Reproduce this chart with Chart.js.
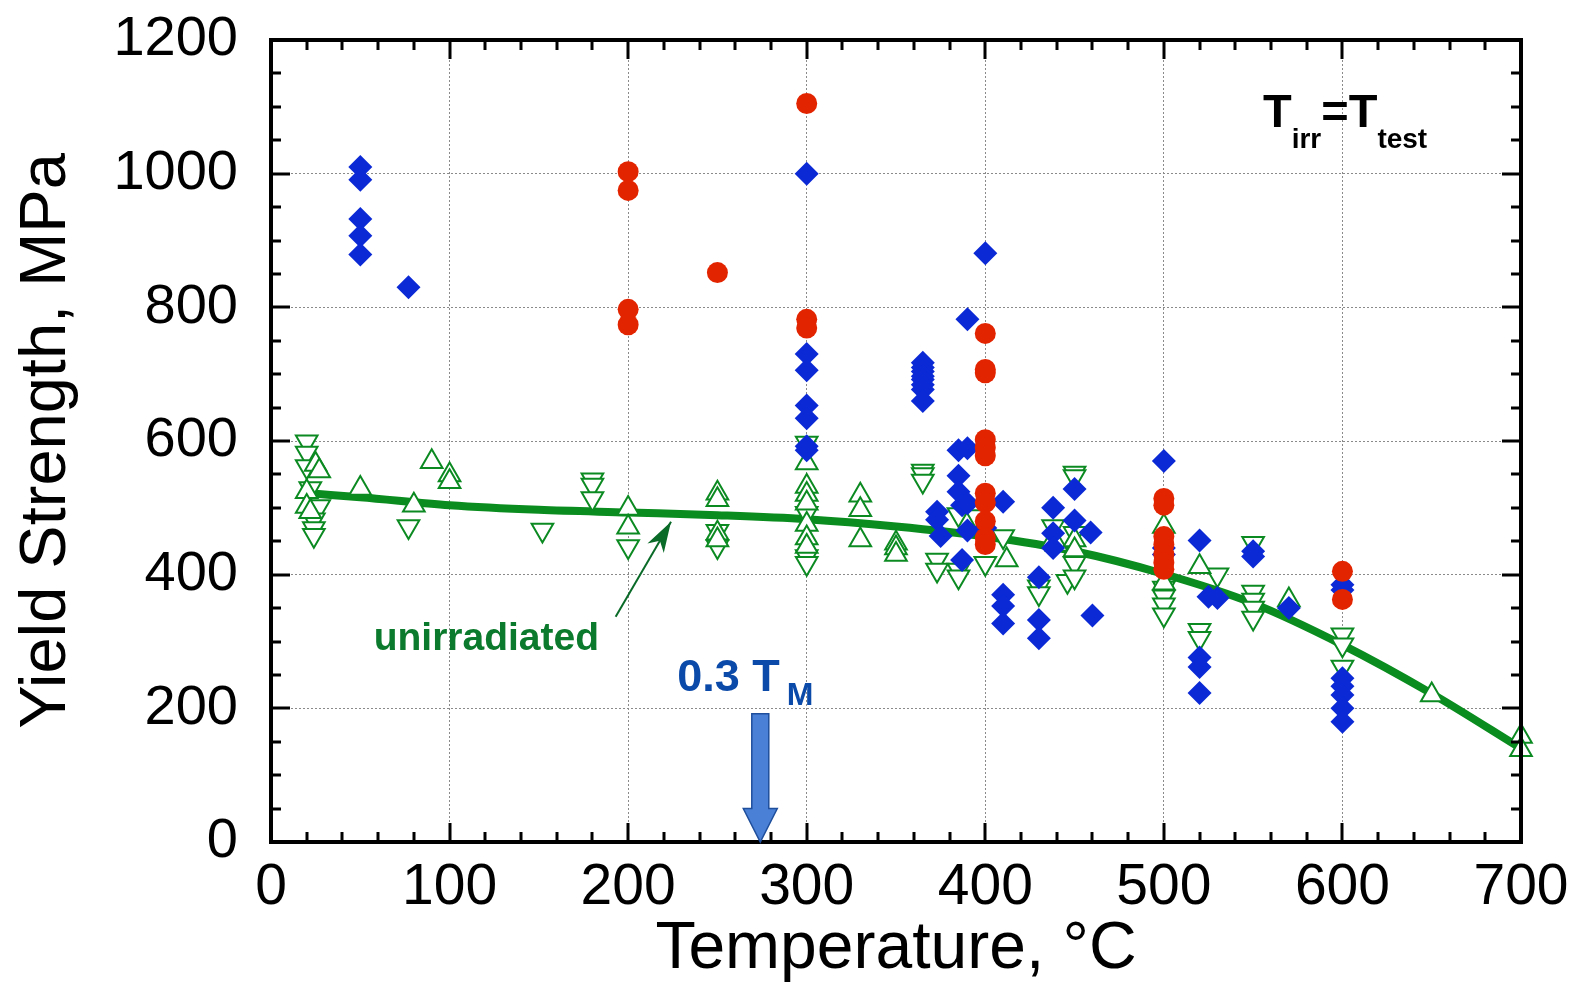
<!DOCTYPE html>
<html>
<head>
<meta charset="utf-8">
<script src="https://cdn.jsdelivr.net/npm/chart.js@4.4.1/dist/chart.umd.min.js"></script>
<style>
  body { margin: 0; background: #fff; }
</style>
</head>
<body>
<canvas id="myChart" width="1581" height="983"></canvas>
<script>
// ---------- data ----------
// irradiated, blue diamonds
const blueT = [50, 50, 50, 50, 50, 77,
  300, 300, 300, 300, 300, 300, 300,
  365, 365, 365, 365, 365, 365, 365, 365,
  385, 390, 385, 385, 387, 390, 373, 373, 375, 390, 387, 390,
  400, 400, 410, 410, 410, 410, 430, 430, 430, 438, 438, 438, 450, 450, 459, 460,
  500, 500, 500, 520, 520, 520, 520, 525, 530, 550, 550, 570,
  600, 600, 600, 600, 600, 600, 600];
const blueY = [1010, 991, 932, 907, 879, 830,
  1000, 730, 706, 653, 634, 592, 586,
  717, 710, 704, 697, 692, 684, 677, 660,
  586, 589, 548, 524, 504, 507, 494, 482, 458, 466, 422, 782,
  881, 470, 509, 370, 353, 327, 396, 332, 305, 500, 462, 440, 528, 481, 463, 339,
  570, 440, 430, 451, 276, 262, 223, 367, 365, 435, 427, 350,
  385, 377, 245, 233, 220, 200, 180];

// irradiated, red circles
const redT = [200, 200, 200, 200, 250, 300, 300, 300,
  400, 400, 400, 400, 400, 400, 400, 400, 400, 400, 400,
  500, 500, 500, 500, 500, 500, 500, 600, 600];
const redY = [1003, 975, 797, 774, 852, 1105, 782, 769,
  761, 707, 702, 602, 590, 578, 522, 508, 480, 455, 445,
  514, 504, 457, 445, 430, 418, 408, 405, 363];

// unirradiated, open up-triangles
const upT = [25, 27, 20, 20, 22, 50, 80, 90, 100, 100, 200, 200,
  250, 250, 250, 250, 300, 300, 300, 300, 300, 300, 300,
  330, 330, 330, 350, 350, 350, 412, 438, 440, 450, 450,
  500, 500, 520, 570, 650, 700, 700];
const upY = [565, 555, 524, 502, 494, 529, 504, 569, 549, 539, 499, 471,
  522, 512, 462, 452, 567, 532, 520, 507, 475, 455, 442,
  519, 497, 452, 447, 440, 430, 422, 452, 445, 452, 437,
  472, 387, 412, 362, 220, 158, 138];

// unirradiated, open down-triangles
const downT = [20, 20, 20, 22, 27, 24, 24, 24, 77, 152, 180, 180, 180, 200,
  250, 250, 300, 300, 300, 300, 365, 365, 365, 373, 373, 385, 385, 385, 395,
  400, 410, 430, 430, 438, 446, 450, 450, 450, 450, 450,
  500, 500, 500, 500, 520, 520, 530, 550, 550, 550, 550, 550, 600, 600, 600];
const downY = [599, 582, 562, 529, 502, 482, 469, 459, 472, 467, 542, 534, 514, 442,
  465, 442, 597, 492, 427, 417, 555, 550, 540, 422, 407, 490, 407, 397, 487,
  417, 457, 382, 372, 472, 390, 552, 547, 462, 417, 397,
  380, 367, 355, 340, 317, 305, 400, 447, 374, 362, 350, 335, 310, 295, 262];

// unirradiated trend line
const lineT = [25, 50, 100, 150, 200, 250, 300, 350, 400, 450, 500, 550, 600, 650, 700];
const lineY = [521, 516, 504, 497, 493, 489, 483, 472, 457, 435, 401, 357, 295, 222, 140];

const xTicks = [0, 100, 200, 300, 400, 500, 600, 700];
const yTicks = [0, 200, 400, 600, 800, 1000, 1200];

const toPts = (xs, ys) => xs.map((x, i) => ({ x: x, y: ys[i] }));

const FONT = "'Liberation Sans', Arial, Helvetica, sans-serif";

// frame, inward ticks and the text / arrow notes
const decor = {
  id: 'decor',
  afterDatasetsDraw(chart) {
    const ctx = chart.ctx;
    const a = chart.chartArea;
    const xs = chart.scales.x, ys = chart.scales.y;
    ctx.save();
    ctx.strokeStyle = '#000';
    ctx.lineWidth = 3;
    ctx.lineCap = 'butt';
    for (let v = 0; v <= 700; v += 20) {
      const px = Math.round(xs.getPixelForValue(v));
      const len = v % 100 === 0 ? 19 : 10;
      ctx.beginPath();
      ctx.moveTo(px, a.bottom); ctx.lineTo(px, a.bottom - len);
      ctx.moveTo(px, a.top); ctx.lineTo(px, a.top + len);
      ctx.stroke();
    }
    for (let v = 0; v <= 1200; v += 50) {
      const py = Math.round(ys.getPixelForValue(v));
      const len = v % 200 === 0 ? 19 : 10;
      ctx.beginPath();
      ctx.moveTo(a.left, py); ctx.lineTo(a.left + len, py);
      ctx.moveTo(a.right, py); ctx.lineTo(a.right - len, py);
      ctx.stroke();
    }
    ctx.lineWidth = 4;
    ctx.strokeRect(a.left, a.top, a.right - a.left, a.bottom - a.top);

    // "unirradiated" + arrow
    ctx.fillStyle = '#0b7a2c';
    ctx.font = 'bold 39px ' + FONT;
    ctx.textBaseline = 'alphabetic';
    ctx.textAlign = 'left';
    ctx.fillText('unirradiated', xs.getPixelForValue(57.5), ys.getPixelForValue(287));
    const ax0 = xs.getPixelForValue(193), ay0 = ys.getPixelForValue(337);
    const ax1 = xs.getPixelForValue(224), ay1 = ys.getPixelForValue(479);
    ctx.strokeStyle = '#0a6a28';
    ctx.lineWidth = 2;
    ctx.beginPath(); ctx.moveTo(ax0, ay0); ctx.lineTo(ax1, ay1); ctx.stroke();
    const ang = Math.atan2(ay1 - ay0, ax1 - ax0);
    ctx.fillStyle = '#0a6a28';
    ctx.beginPath();
    ctx.moveTo(ax1, ay1);
    ctx.lineTo(ax1 - 32 * Math.cos(ang - 0.3), ay1 - 32 * Math.sin(ang - 0.3));
    ctx.lineTo(ax1 - 22 * Math.cos(ang), ay1 - 22 * Math.sin(ang));
    ctx.lineTo(ax1 - 32 * Math.cos(ang + 0.3), ay1 - 32 * Math.sin(ang + 0.3));
    ctx.closePath(); ctx.fill();

    // 0.3 TM with blue arrow
    ctx.fillStyle = '#0b4aa8';
    ctx.font = 'bold 45px ' + FONT;
    const tx = xs.getPixelForValue(227.5), ty = ys.getPixelForValue(226);
    ctx.fillText('0.3 T', tx, ty);
    const w1 = ctx.measureText('0.3 T').width;
    ctx.font = 'bold 32px ' + FONT;
    ctx.fillText('M', tx + w1 + 7, ty + 14);

    const bx = xs.getPixelForValue(274);
    const bTop = ys.getPixelForValue(192), bHead = ys.getPixelForValue(50), bTip = ys.getPixelForValue(0);
    ctx.fillStyle = '#4a80d6';
    ctx.strokeStyle = '#1f4f9c';
    ctx.lineWidth = 1.5;
    ctx.beginPath();
    ctx.moveTo(bx - 8.5, bTop); ctx.lineTo(bx + 8.5, bTop);
    ctx.lineTo(bx + 8.5, bHead); ctx.lineTo(bx + 17, bHead);
    ctx.lineTo(bx, bTip); ctx.lineTo(bx - 17, bHead);
    ctx.lineTo(bx - 8.5, bHead); ctx.closePath();
    ctx.fill(); ctx.stroke();

    // Tirr = Ttest
    ctx.fillStyle = '#000';
    let px = xs.getPixelForValue(555.5);
    const base = ys.getPixelForValue(1070), sub = base + 21;
    const big = 'bold 47px ' + FONT, small = 'bold 28px ' + FONT;
    ctx.font = big; ctx.fillText('T', px, base); px += ctx.measureText('T').width;
    ctx.font = small; ctx.fillText('irr', px, sub); px += ctx.measureText('irr').width;
    ctx.font = big; ctx.fillText('=T', px, base); px += ctx.measureText('=T').width;
    ctx.font = small; ctx.fillText('test', px, sub);
    ctx.restore();
  }
};

const tri = (label, xs, ys, rot) => ({
  label: label,
  data: toPts(xs, ys),
  pointStyle: 'triangle',
  pointRotation: rot,
  pointRadius: 12.5,
  pointBackgroundColor: '#fff',
  pointBorderColor: '#0c8a22',
  pointBorderWidth: 2,
  showLine: false,
  clip: false
});

const ctx = document.getElementById('myChart').getContext('2d');
const myChart = new Chart(ctx, {
  type: 'scatter',
  data: {
    datasets: [
      {
        label: 'irradiated (red)',
        data: toPts(redT, redY),
        pointStyle: 'circle',
        pointRadius: 10.5,
        pointBackgroundColor: '#e32400',
        pointBorderColor: '#e32400',
        pointBorderWidth: 0,
        clip: false
      },
      {
        label: 'irradiated (blue)',
        data: toPts(blueT, blueY),
        pointStyle: 'rectRot',
        pointRadius: 12,
        pointBackgroundColor: '#0b2ad6',
        pointBorderColor: '#0b2ad6',
        pointBorderWidth: 0,
        clip: false
      },
      tri('unirradiated up', upT, upY, 0),
      tri('unirradiated down', downT, downY, 180),
      {
        label: 'unirradiated fit',
        data: toPts(lineT, lineY),
        showLine: true,
        borderColor: '#0a8c1e',
        borderWidth: 8,
        pointRadius: 0,
        tension: 0.4,
        cubicInterpolationMode: 'monotone',
        clip: false
      }
    ]
  },
  options: {
    responsive: false,
    animation: false,
    layout: { padding: { top: 40, right: 60, left: 0, bottom: 0 } },
    plugins: { legend: { display: false }, tooltip: { enabled: false } },
    scales: {
      x: {
        type: 'linear',
        min: 0, max: 700,
        afterBuildTicks: s => { s.ticks = xTicks.map(v => ({ value: v })); },
        afterFit: s => { s.height = 141; },
        // invisible tick marks only push the labels away from the axis
        grid: { color: '#8a8a8a', lineWidth: 1, drawTicks: true, tickLength: 12, tickWidth: 0 },
        border: { display: false, dash: [2, 2] },
        ticks: { color: '#000', padding: 0, font: { family: FONT, size: 57 }, maxRotation: 0,
                 callback: v => String(v) },
        title: { display: true, text: 'Temperature, °C', color: '#000',
                 font: { family: FONT, size: 66, lineHeight: 1 }, padding: { top: 0, bottom: 0 } }
      },
      y: {
        type: 'linear',
        min: 0, max: 1200,
        afterBuildTicks: s => { s.ticks = yTicks.map(v => ({ value: v })); },
        afterFit: s => { s.width = 271; },
        grid: { color: '#8a8a8a', lineWidth: 1, drawTicks: true, tickLength: 33, tickWidth: 0 },
        border: { display: false, dash: [2, 2] },
        ticks: { color: '#000', padding: 0, font: { family: FONT, size: 56 },
                 callback: v => String(v) },
        title: { display: true, text: 'Yield Strength, MPa', color: '#000',
                 font: { family: FONT, size: 65, lineHeight: 1 }, padding: { top: 15, bottom: 0 } }
      }
    }
  },
  plugins: [decor]
});
</script>
</body>
</html>
